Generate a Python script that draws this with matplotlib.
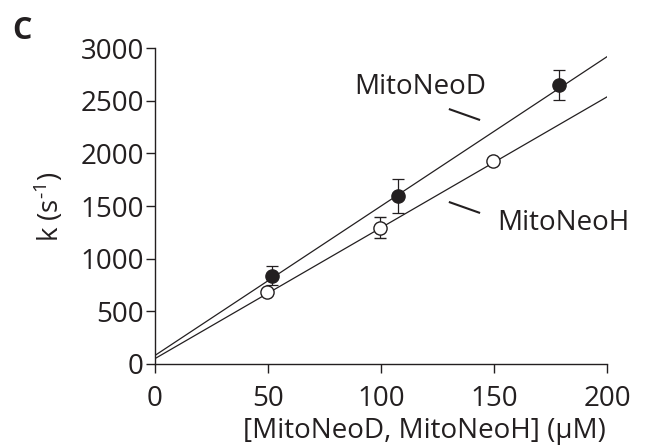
import matplotlib
matplotlib.use("Agg")
import matplotlib.pyplot as plt
import numpy as np

plt.rcParams['font.family'] = ['Open Sans', 'DejaVu Sans']
plt.rcParams['mathtext.fontset'] = 'custom'
plt.rcParams['mathtext.rm'] = 'Open Sans'

# Data
d_conc = [51.6, 107.7, 178.6]
d_k = [840, 1595, 2650]
d_err = [90, 158, 145]
h_conc = [49.7, 99.7, 149.7]
h_k = [681, 1295, 1925]
h_err = [0, 100, 0]
d_fit = (14.2, 80)   # slope, intercept
h_fit = (12.44, 50)
x_ticks = [0, 50, 100, 150, 200]
y_ticks = [0, 500, 1000, 1500, 2000, 2500, 3000]

FS = 20
C = '#231f20'

fig = plt.figure(figsize=(6.48, 4.46), dpi=100)
ax = fig.add_axes([0.239, 0.184, 0.698, 0.708])

xx = np.array([0, 200])
ax.plot(xx, d_fit[0] * xx + d_fit[1], color=C, lw=0.9, zorder=2)
ax.plot(xx, h_fit[0] * xx + h_fit[1], color=C, lw=0.9, zorder=2)

ax.errorbar(d_conc, d_k, yerr=d_err, fmt='o', color=C, mfc=C,
            mec=C, ms=9.5, capsize=4, elinewidth=0.9, capthick=0.9, zorder=4)
ax.errorbar(h_conc, h_k, yerr=h_err, fmt='o', color=C, mfc='white',
            mec=C, mew=1.0, ms=9.5, capsize=4, elinewidth=0.9, capthick=0.9, zorder=3)

# labels with pointer lines
ax.text(117.3, 2630, 'MitoNeoD', ha='center', va='center', fontsize=FS, color=C)
ax.plot([130, 143.8], [2422, 2317], color=C, lw=1.5, solid_capstyle='butt')
ax.text(180.5, 1339, 'MitoNeoH', ha='center', va='center', fontsize=FS, color=C)
ax.plot([130, 143.8], [1539, 1434], color=C, lw=1.5, solid_capstyle='butt')

ax.set_xlim(0, 200)
ax.set_ylim(0, 3000)
ax.set_xticks(x_ticks)
ax.set_yticks(y_ticks)
for s in ['top', 'right']:
    ax.spines[s].set_visible(False)
for s in ['left', 'bottom']:
    ax.spines[s].set_linewidth(1.0)
    ax.spines[s].set_color(C)
ax.tick_params(direction='out', length=6.5, width=1.0, colors=C, labelsize=FS)
ax.tick_params(axis='x', pad=9)
ax.tick_params(axis='y', pad=1.5)

ax.set_xlabel('[MitoNeoD, MitoNeoH] (\u00b5M)', fontsize=FS, color=C)
ax.xaxis.set_label_coords(0.597, -0.168)
ax.set_ylabel('k (s$^{\\mathregular{\u2010}1}$)', fontsize=FS, color=C, labelpad=10)

fig.text(0.019, 0.965, 'C', fontsize=22, fontweight='bold', color=C, va='top')

fig.savefig('out.png', dpi=100)
